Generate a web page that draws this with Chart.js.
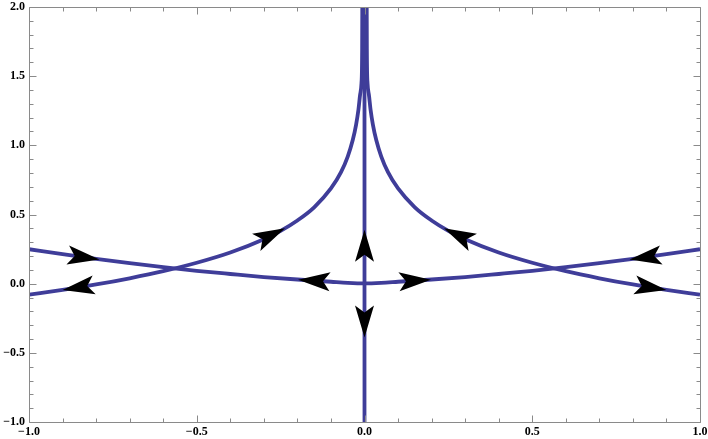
<!DOCTYPE html>
<html>
<head>
<meta charset="utf-8">
<title>Phase portrait</title>
<script src="https://cdn.jsdelivr.net/npm/chart.js@4.4.1/dist/chart.umd.min.js"></script>
<style>
  html, body { margin: 0; padding: 0; background: #fff; }
  #chart { display: block; }
</style>
</head>
<body>
<canvas id="chart" width="708" height="439"></canvas>
<script>
// shallow curve through the origin
const curveAX = [-1, -0.9, -0.8, -0.7, -0.6, -0.5, -0.4, -0.3, -0.2, -0.1, -0.05, 0, 0.05, 0.1, 0.2, 0.3, 0.4, 0.5, 0.6, 0.7, 0.8, 0.9, 1];
const curveAY = [0.249, 0.213, 0.179, 0.148, 0.119, 0.093, 0.070, 0.048, 0.030, 0.014, 0.006, 0.002, 0.006, 0.014, 0.030, 0.048, 0.070, 0.093, 0.119, 0.148, 0.179, 0.213, 0.249];

// steep curves going up along x = 0
const curveBLeftX = [-1, -0.9, -0.8, -0.7, -0.6, -0.5, -0.4, -0.3, -0.25, -0.2, -0.15, -0.1, -0.07, -0.05, -0.035, -0.025, -0.018, -0.013, -0.009, -0.007, -0.0065];
const curveBRightX = [1, 0.9, 0.8, 0.7, 0.6, 0.5, 0.4, 0.3, 0.25, 0.2, 0.15, 0.1, 0.07, 0.05, 0.035, 0.025, 0.018, 0.013, 0.009, 0.007, 0.0065];
const curveBY = [-0.080, -0.045, -0.006, 0.039, 0.090, 0.151, 0.225, 0.321, 0.382, 0.457, 0.552, 0.688, 0.806, 0.919, 1.038, 1.150, 1.259, 1.368, 1.45, 1.7, 2.1];

// vertical line x = 0
const lineVX = [0, 0];
const lineVY = [-1.1, 2.1];

// arrowheads: tip point and a point behind it on the curve
const arrowTipX  = [-0.79, -0.9, -0.237, -0.198, 0, 0, 0.198, 0.237, 0.79, 0.9];
const arrowTipY  = [0.175, -0.045, 0.400, 0.029, 0.39, -0.39, 0.029, 0.400, 0.175, -0.045];
const arrowTailX = [-0.89, -0.8, -0.33, -0.1, 0, 0, 0.1, 0.33, 0.89, 0.8];
const arrowTailY = [0.209, -0.006, 0.290, 0.014, 0.16, -0.16, 0.014, 0.290, 0.209, -0.006];

const xTicks = [-1, -0.5, 0, 0.5, 1];
const yTicks = [-1, -0.5, 0, 0.5, 1, 1.5, 2];

const LINE_COLOR = '#3f3d99';
const FRAME_COLOR = '#8a8a8a';

function toPoints(xs, ys) {
    return xs.map(function (v, i) { return {x: v, y: ys[i]}; });
}

function fmt(v) {
    const s = Math.abs(v).toFixed(1);
    return v < 0 ? '\u2212' + s : s;
}

function curve(xs, ys) {
    return {
        data: toPoints(xs, ys),
        showLine: true,
        borderColor: LINE_COLOR,
        borderWidth: 3.8,
        pointRadius: 0,
        cubicInterpolationMode: 'monotone',
        fill: false,
    };
}

// Mathematica style frame with inward ticks on all four sides
const framePlugin = {
    id: 'frame',
    afterDatasetsDraw: function (chart) {
        const ctx = chart.ctx;
        const a = chart.chartArea;
        const sx = chart.scales.x, sy = chart.scales.y;
        const L = Math.round(a.left) + 0.5, R = Math.round(a.right) + 0.5;
        const T = Math.round(a.top) + 0.5, B = Math.round(a.bottom) + 0.5;
        ctx.save();
        ctx.strokeStyle = FRAME_COLOR;
        ctx.lineWidth = 1;
        ctx.beginPath();
        ctx.rect(L, T, R - L, B - T);
        ctx.stroke();

        ctx.beginPath();
        for (let i = -10; i <= 10; i++) {
            const len = i % 5 === 0 ? 7 : 4;
            const px = Math.round(sx.getPixelForValue(i / 10)) + 0.5;
            ctx.moveTo(px, B); ctx.lineTo(px, B - len);
            ctx.moveTo(px, T); ctx.lineTo(px, T + len);
        }
        for (let j = -10; j <= 20; j++) {
            const len = j % 5 === 0 ? 7 : 4;
            const py = Math.round(sy.getPixelForValue(j / 10)) + 0.5;
            ctx.moveTo(L, py); ctx.lineTo(L + len, py);
            ctx.moveTo(R, py); ctx.lineTo(R - len, py);
        }
        ctx.stroke();
        ctx.restore();
    }
};

const arrowPlugin = {
    id: 'arrowheads',
    afterDatasetsDraw: function (chart) {
        const ctx = chart.ctx;
        const sx = chart.scales.x, sy = chart.scales.y;
        ctx.save();
        ctx.fillStyle = '#000';
        arrowTipX.forEach(function (tx, i) {
            const px = sx.getPixelForValue(tx), py = sy.getPixelForValue(arrowTipY[i]);
            const bx = sx.getPixelForValue(arrowTailX[i]), by = sy.getPixelForValue(arrowTailY[i]);
            ctx.save();
            ctx.translate(px, py);
            ctx.rotate(Math.atan2(py - by, px - bx));
            ctx.beginPath();
            ctx.moveTo(0, 0);
            ctx.lineTo(-32, -9.5);
            ctx.lineTo(-25, 0);
            ctx.lineTo(-32, 9.5);
            ctx.closePath();
            ctx.fill();
            ctx.restore();
        });
        ctx.restore();
    }
};

const tickFont = {family: '"Liberation Serif", "Times New Roman", serif', size: 12, weight: 'bold'};

new Chart(document.getElementById('chart'), {
    type: 'scatter',
    data: {
        datasets: [
            curve(lineVX, lineVY),
            curve(curveAX, curveAY),
            curve(curveBLeftX, curveBY),
            curve(curveBRightX, curveBY),
        ]
    },
    options: {
        responsive: false,
        animation: false,
        devicePixelRatio: 1,
        layout: {padding: {left: 0, top: 7, right: 8, bottom: 0}},
        plugins: {legend: {display: false}, tooltip: {enabled: false}},
        scales: {
            x: {
                type: 'linear', min: -1, max: 1,
                grid: {display: false, drawTicks: false},
                border: {display: false},
                afterBuildTicks: function (s) { s.ticks = xTicks.map(function (v) { return {value: v}; }); },
                afterFit: function (s) {
                    s.height = 17;
                    s.paddingLeft = s.paddingRight = s.paddingTop = s.paddingBottom = 0;
                },
                ticks: {
                    autoSkip: false, maxRotation: 0, padding: 3, color: '#000', font: tickFont,
                    callback: function (v) { return fmt(v); }
                }
            },
            y: {
                type: 'linear', min: -1, max: 2,
                grid: {display: false, drawTicks: false},
                border: {display: false},
                afterBuildTicks: function (s) { s.ticks = yTicks.map(function (v) { return {value: v}; }); },
                afterFit: function (s) {
                    s.width = 29;
                    s.paddingLeft = s.paddingRight = s.paddingTop = s.paddingBottom = 0;
                },
                ticks: {
                    autoSkip: false, padding: 4, color: '#000', font: tickFont,
                    callback: function (v) { return fmt(v); }
                }
            }
        }
    },
    plugins: [framePlugin, arrowPlugin]
});
</script>
</body>
</html>
